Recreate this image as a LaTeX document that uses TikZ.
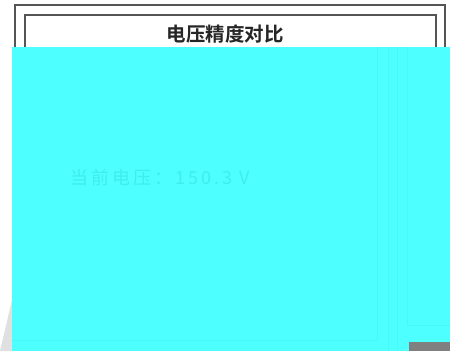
\documentclass[tikz,border=0pt]{standalone}
\usepackage{fontspec}
\newfontfamily\cjk{Noto Sans CJK SC}[LetterSpace=17]
\newfontfamily\cjkbold{Noto Sans CJK SC Bold}
\definecolor{glitch}{HTML}{4DFFFF}
\definecolor{glitchline}{HTML}{48F7F7}
\definecolor{faint}{HTML}{3EEDED}
\definecolor{framegray}{HTML}{555555}
\tikzset{
  framebox/.style={draw=framegray, line width=1.2pt},
  faintline/.style={draw=glitchline, line width=0.6pt},
}
\begin{document}
\begin{tikzpicture}[x=1pt,y=-1pt]
\useasboundingbox (0,0) rectangle (450,351);
\fill[white] (0,0) rectangle (450,351);
% frames
\draw[framebox] (15,47) -- (15,5) -- (445,5) -- (445,47);
\draw[framebox] (25,47) -- (25,15) -- (436,15) -- (436,47);
% title
\node[font=\cjkbold\fontsize{19.5}{22}\selectfont, text=black!85] (title) at (225,34) {电压精度对比};
% bottom-left shadow
\fill[black!12] (0,351) -- (12,300) -- (12,351) -- cycle;
% glitch block
\fill[glitch] (12,47) rectangle (450,351);
\draw[faintline] (12,340) -- (377,340) -- (377,47);
\draw[faintline] (388,47) -- (388,351);
\draw[faintline] (397,47) -- (397,351);
\draw[faintline] (407,47) -- (407,325) -- (450,325);
% faint value text
\node[font=\cjk\fontsize{18}{20}\selectfont, text=faint, anchor=west, inner sep=0pt] (value) at (70,178) {当前电压：150.3 V};
% gray patch
\fill[black!50] (409,342) rectangle (450,351);
\end{tikzpicture}
\end{document}
